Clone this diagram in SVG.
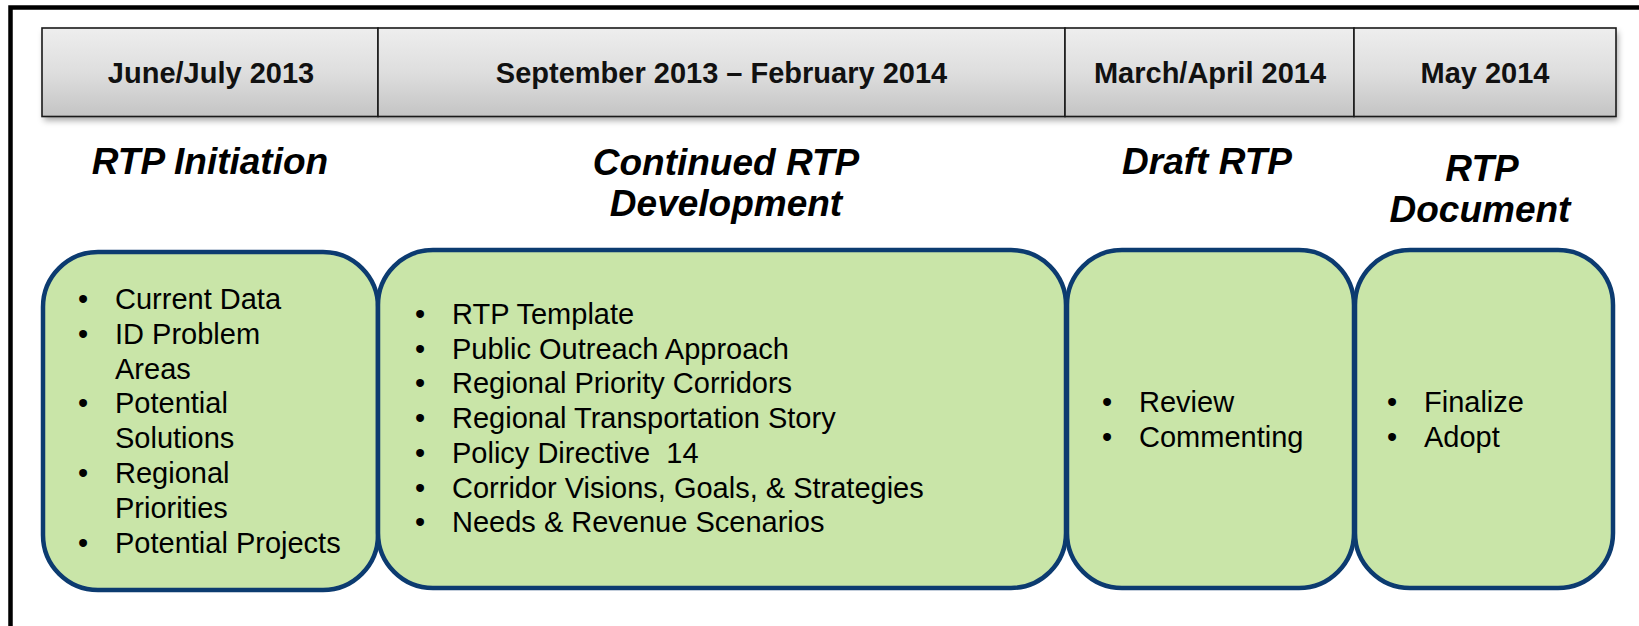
<svg xmlns="http://www.w3.org/2000/svg" width="1639" height="626" viewBox="0 0 1639 626">
  <defs>
    <linearGradient id="hdrGrad" x1="0" y1="0" x2="0" y2="1">
      <stop offset="0" stop-color="#eeeeee"/>
      <stop offset="0.5" stop-color="#dedede"/>
      <stop offset="1" stop-color="#c4c4c4"/>
    </linearGradient>
    <filter id="shadow" x="-5%" y="-20%" width="110%" height="150%">
      <feDropShadow dx="2" dy="4" stdDeviation="3" flood-color="#000000" flood-opacity="0.35"/>
    </filter>
  </defs>
  <style>
    .frame { fill: none; stroke: #000000; stroke-width: 4.5; }
    .hdr { fill: url(#hdrGrad); stroke: #1a1a1a; stroke-width: 1.6; }
    .hdrText { font-family: "Liberation Sans", Arial, sans-serif; font-weight: bold; font-size: 29px; fill: #111111; text-anchor: middle; }
    .title { font-family: "Liberation Sans", Arial, sans-serif; font-weight: bold; font-style: italic; font-size: 37px; fill: #000000; text-anchor: middle; }
    .box { fill: #c9e5a8; stroke: #0c3b70; stroke-width: 4.5; }
    .item { font-family: "Liberation Sans", Arial, sans-serif; font-size: 29px; fill: #000000; }
    .bullet { font-family: "Liberation Sans", Arial, sans-serif; font-size: 29px; fill: #000000; text-anchor: middle; }
  </style>

  <rect x="0" y="0" width="1639" height="626" fill="#ffffff"/>
  <path class="frame" d="M10.5,626 V7.5 H1639"/>

  <!-- header timeline bar -->
  <g id="header-bar">
    <rect x="42" y="28" width="1574" height="88.5" fill="#cccccc" filter="url(#shadow)"/>
    <g id="hdr-jun-jul-2013">
      <rect class="hdr" x="42" y="28" width="336" height="88.5"/>
      <text class="hdrText" x="211" y="82.5">June/July 2013</text>
    </g>
    <g id="hdr-sep-feb">
      <rect class="hdr" x="378" y="28" width="687" height="88.5"/>
      <text class="hdrText" x="721.5" y="82.5">September 2013 – February 2014</text>
    </g>
    <g id="hdr-mar-apr-2014">
      <rect class="hdr" x="1065" y="28" width="289" height="88.5"/>
      <text class="hdrText" x="1210" y="82.5">March/April 2014</text>
    </g>
    <g id="hdr-may-2014">
      <rect class="hdr" x="1354" y="28" width="262" height="88.5"/>
      <text class="hdrText" x="1485" y="82.5">May 2014</text>
    </g>
  </g>

  <!-- phase titles -->
  <g id="title-rtp-initiation">
    <text class="title" x="210" y="174">RTP Initiation</text>
  </g>
  <g id="title-continued-development">
    <text class="title" x="726" y="175">Continued RTP</text>
    <text class="title" x="726" y="216">Development</text>
  </g>
  <g id="title-draft-rtp">
    <text class="title" x="1207" y="174">Draft RTP</text>
  </g>
  <g id="title-rtp-document">
    <text class="title" x="1482" y="181">RTP</text>
    <text class="title" x="1480" y="222">Document</text>
  </g>

  <!-- phase boxes -->
  <g id="box-initiation">
    <rect class="box" x="43" y="252" width="335" height="338" rx="55" ry="55"/>
    <text class="bullet" x="83" y="309">•</text>
    <text class="item" x="115" y="309">Current Data</text>
    <text class="bullet" x="83" y="343.8">•</text>
    <text class="item" x="115" y="343.8">ID Problem</text>
    <text class="item" x="115" y="378.6">Areas</text>
    <text class="bullet" x="83" y="413.4">•</text>
    <text class="item" x="115" y="413.4">Potential</text>
    <text class="item" x="115" y="448.2">Solutions</text>
    <text class="bullet" x="83" y="483">•</text>
    <text class="item" x="115" y="483">Regional</text>
    <text class="item" x="115" y="517.8">Priorities</text>
    <text class="bullet" x="83" y="552.6">•</text>
    <text class="item" x="115" y="552.6">Potential Projects</text>
  </g>

  <g id="box-development">
    <rect class="box" x="378" y="250" width="688" height="338" rx="55" ry="55"/>
    <text class="bullet" x="420" y="324">•</text>
    <text class="item" x="452" y="324">RTP Template</text>
    <text class="bullet" x="420" y="358.7">•</text>
    <text class="item" x="452" y="358.7">Public Outreach Approach</text>
    <text class="bullet" x="420" y="393.4">•</text>
    <text class="item" x="452" y="393.4">Regional Priority Corridors</text>
    <text class="bullet" x="420" y="428.1">•</text>
    <text class="item" x="452" y="428.1">Regional Transportation Story</text>
    <text class="bullet" x="420" y="462.8">•</text>
    <text class="item" x="452" y="462.8" xml:space="preserve">Policy Directive  14</text>
    <text class="bullet" x="420" y="497.5">•</text>
    <text class="item" x="452" y="497.5">Corridor Visions, Goals, &amp; Strategies</text>
    <text class="bullet" x="420" y="532.2">•</text>
    <text class="item" x="452" y="532.2">Needs &amp; Revenue Scenarios</text>
  </g>

  <g id="box-draft">
    <rect class="box" x="1067" y="250" width="287" height="338" rx="55" ry="55"/>
    <text class="bullet" x="1107" y="412">•</text>
    <text class="item" x="1139" y="412">Review</text>
    <text class="bullet" x="1107" y="446.7">•</text>
    <text class="item" x="1139" y="446.7">Commenting</text>
  </g>

  <g id="box-document">
    <rect class="box" x="1355" y="250" width="258" height="338" rx="55" ry="55"/>
    <text class="bullet" x="1392" y="412">•</text>
    <text class="item" x="1424" y="412">Finalize</text>
    <text class="bullet" x="1392" y="446.7">•</text>
    <text class="item" x="1424" y="446.7">Adopt</text>
  </g>

  <g id="connectors"></g>
</svg>
